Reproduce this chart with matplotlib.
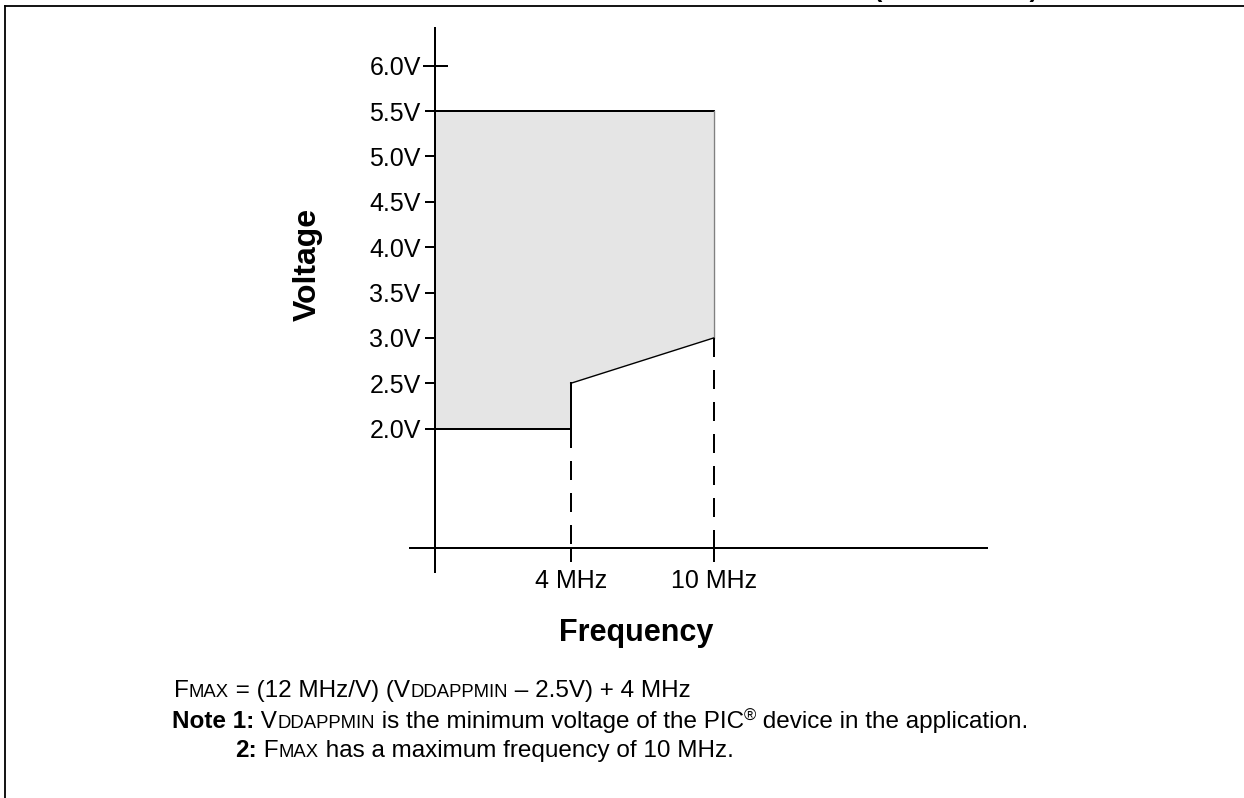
import numpy as np
import matplotlib.pyplot as plt
from matplotlib.lines import Line2D
from matplotlib.ticker import NullLocator
from matplotlib import font_manager

# operating region: frequency (MHz) against supply voltage (V)
region_f = [0, 0, 10, 10, 4, 4]
region_v = [2.0, 5.5, 5.5, 3.0, 2.5, 2.0]

volt_ticks = [2.0, 2.5, 3.0, 3.5, 4.0, 4.5, 5.0, 5.5]
volt_max = 6.0
freq_ticks = [4, 10]
freq_labels = ['4 MHz', '10 MHz']

W, H = 1244, 798

names = {f.name for f in font_manager.fontManager.ttflist}
SANS = 'Liberation Sans' if 'Liberation Sans' in names else 'DejaVu Sans'
plt.rcParams['font.family'] = SANS


def px(x, y):
    return x / W, 1 - y / H


fig = plt.figure(figsize=(W / 100, H / 100), dpi=100)
ax = fig.add_axes([410 / W, 1 - 572 / H, 577 / W, 544 / H])

# frequency axis is drawn schematically, piecewise spacing
f_knots = np.array([-10.0, 0.0, 4.0, 10.0, 40.0])
p_knots = np.array([-339.0, 0.0, 135.7, 278.7, 993.6])
ax.set_xscale('function', functions=(lambda f: np.interp(f, f_knots, p_knots),
                                     lambda p: np.interp(p, p_knots, f_knots)))
ax.set_xlim(*np.interp([-25, 552], p_knots, f_knots))
ax.set_ylim(0.421, 6.415)
axis_v = 0.681

# shaded region and its outline
ax.fill(region_f, region_v, color='#e5e5e5', lw=0, zorder=1)
ax.plot(region_f[1:3], region_v[1:3], color='black', lw=1.44, zorder=3)
ax.plot(region_f[2:4], region_v[2:4], color='#808080', lw=1.0, zorder=3)
ax.plot(region_f[3:5], region_v[3:5], color='black', lw=1.0, zorder=3)
ax.plot(region_f[4:6], region_v[4:6], color='black', lw=1.44, zorder=3)
ax.plot([region_f[5], region_f[0]], [region_v[5], region_v[0]], color='black', lw=1.44, zorder=3)

# dashed drops to the frequency axis
for f, v in [(region_f[5], region_v[5]), (region_f[3], region_v[3])]:
    ax.plot([f, f], [v, axis_v], color='black', lw=1.44, dashes=(9.5, 6.5), zorder=3)

for s in ['top', 'right']:
    ax.spines[s].set_visible(False)
ax.spines['left'].set_position(('data', 0))
ax.spines['bottom'].set_position(('data', axis_v))
ax.spines['left'].set_linewidth(1.44)
ax.spines['bottom'].set_linewidth(1.44)

ax.set_yticks(volt_ticks, labels=[f'{v:.1f}V' for v in volt_ticks])
ax.set_yticks([volt_max], labels=[f'{volt_max:.1f}V'], minor=True)
ax.tick_params(axis='y', which='major', direction='out', length=7.2, width=1.44,
               pad=3.1, labelsize=18)
ax.tick_params(axis='y', which='minor', direction='inout', length=18, width=1.44,
               pad=1.3, labelsize=18)
ax.set_xticks(freq_ticks, labels=freq_labels)
ax.xaxis.set_minor_locator(NullLocator())
ax.tick_params(axis='x', direction='out', length=10, width=1.44, pad=5, labelsize=18)

fig.text(*px(308, 264), 'Voltage', rotation=90, fontsize=23, fontweight='bold',
         ha='center', va='center')
fig.text(*px(636, 633), 'Frequency', fontsize=22, fontweight='bold',
         ha='center', va='center')

# frame around the figure
fig.add_artist(Line2D([5 / W, 1], [1 - 5.5 / H] * 2, color='black', lw=1.3))
fig.add_artist(Line2D([5 / W] * 2, [1 - 5.5 / H, 0], color='black', lw=1.3))
fig.text(956 / W, 1 + 3 / H, '(CONTINUED)', ha='center', va='baseline',
         fontsize=18, fontweight='bold')


def rich_line(x, y, parts):
    r = fig.canvas.get_renderer()
    for s, size, weight, rise in parts:
        t = fig.text(x / W, 1 - (y - rise) / H, s, fontsize=size, fontweight=weight,
                     va='baseline', ha='left')
        x += t.get_window_extent(r).width


BIG, SMALL, SUP = 17.5, 13.3, 12
rich_line(174, 697, [('F', BIG, 'normal', 0), ('MAX', SMALL, 'normal', 0),
                     (' = (12 MHz/V) (V', BIG, 'normal', 0), ('DDAPPMIN', SMALL, 'normal', 0),
                     (' \u2013 2.5V) + 4 MHz', BIG, 'normal', 0)])
rich_line(172, 728, [('Note 1:', BIG, 'bold', 0), (' V', BIG, 'normal', 0),
                     ('DDAPPMIN', SMALL, 'normal', 0),
                     (' is the minimum voltage of the PIC', BIG, 'normal', 0),
                     ('\u00ae', SUP, 'normal', 7),
                     (' device in the application.', BIG, 'normal', 0)])
rich_line(235, 757, [('2:', BIG, 'bold', 0), (' F', BIG, 'normal', 0),
                     ('MAX', SMALL, 'normal', 0),
                     (' has a maximum frequency of 10 MHz.', BIG, 'normal', 0)])

fig.savefig('out.png', dpi=100)
